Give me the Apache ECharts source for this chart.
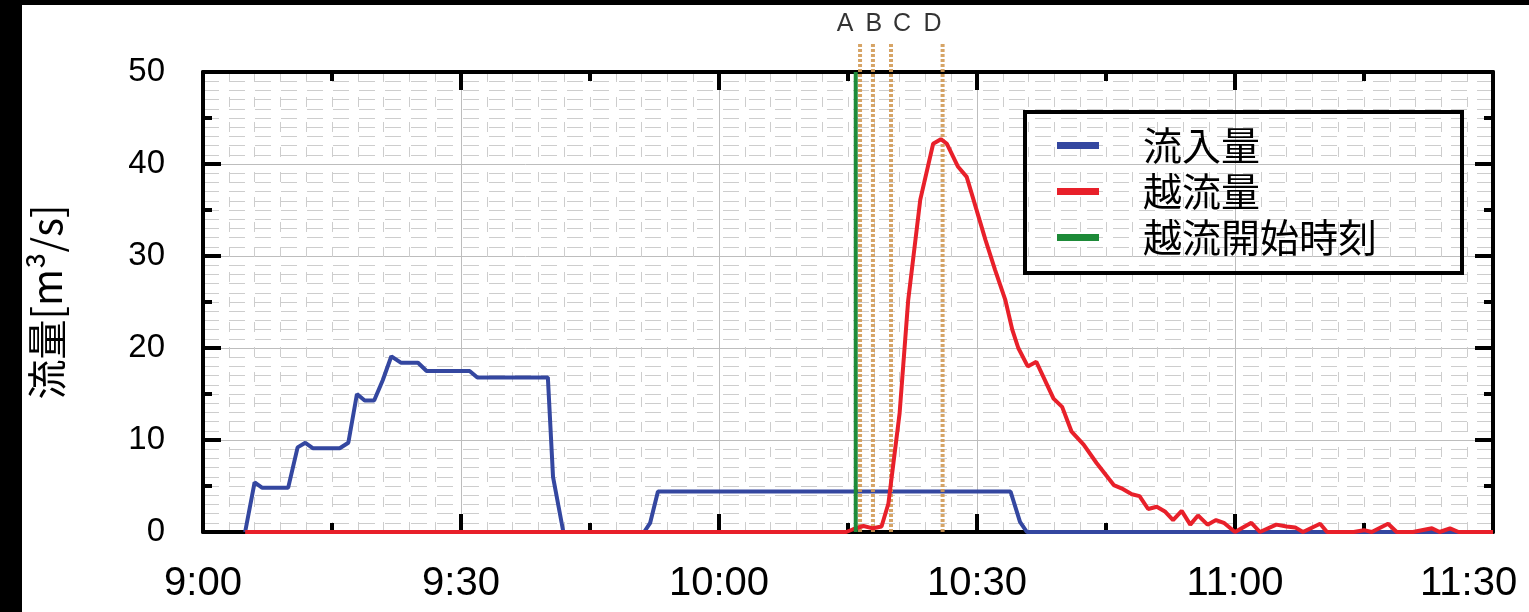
<!DOCTYPE html>
<html><head><meta charset="utf-8">
<script src="https://cdn.jsdelivr.net/npm/echarts@6/dist/echarts.min.js"></script>
<style>html,body{margin:0;padding:0;background:#fff}#c{width:1529px;height:612px}</style>
</head><body><div id="c"></div>
<script>
// ---- data ----
const seriesNames = ['流入量', '越流量', '越流開始時刻'];
const xTickLabels = ['9:00', '9:30', '10:00', '10:30', '11:00', '11:30']; // every 30 min from 9:00
const yAxisName = '流量[m³/s]';
// minutes after 9:00, flow [m3/s]
const inflow = [
  [4.9,0],[6.0,5.4],[6.9,4.8],[9.9,4.8],[11.0,9.2],[11.9,9.7],[12.8,9.1],[15.9,9.1],[16.9,9.7],
  [17.9,15.0],[18.8,14.3],[19.9,14.3],[20.9,16.5],[21.9,19.1],[23.0,18.4],[25.0,18.4],[26.0,17.5],
  [31.0,17.5],[31.9,16.8],[40.1,16.8],[40.7,6.0],[41.9,0],[51.3,0],[52.0,1.0],[52.9,4.4],
  [93.9,4.4],[95.0,1.1],[95.8,0],[150,0]
];
const overflow = [
  [4.9,0],[74.8,0],[75.6,0.3],[76.8,0.65],[77.9,0.4],[78.9,0.6],[79.7,3.1],[81.0,12.9],[82.0,25.2],
  [83.4,36.1],[84.9,42.2],[85.8,42.7],[86.5,42.2],[87.8,39.7],[88.8,38.6],[89.6,36.1],[91.0,31.7],
  [92.1,28.5],[93.3,25.2],[94.1,22.0],[94.8,20.0],[95.9,18.0],[96.9,18.5],[98.9,14.5],[99.9,13.6],
  [101.0,10.9],[102.4,9.5],[103.9,7.5],[105.9,5.1],[106.8,4.75],[108.0,4.1],[108.9,3.9],[109.9,2.5],
  [110.9,2.75],[111.9,2.2],[112.8,1.3],[113.8,2.3],[114.8,0.8],[115.7,1.8],[116.8,0.8],[117.8,1.3],
  [118.7,1.0],[120.0,0],[121.9,1.0],[122.9,0],[124.8,0.8],[126.0,0.6],[127.0,0.5],[127.9,0],
  [129.9,0.9],[130.7,0],[133.8,0],[135.0,0.2],[135.9,0],[137.8,0.9],[138.8,0],[140.7,0],[142.9,0.4],
  [143.8,0],[145.0,0.4],[146.0,0],[150,0]
];
const overflowStart = 75.9;            // minutes after 9:00
const eventNames = ['A', 'B', 'C', 'D'];
const eventTimes = [76.4, 77.9, 80.0, 86.0];

// ---- style / layout ----
const eventLabelDx = [-15, 1, 11, -10];
const LAT = 'Liberation Sans, Arial, sans-serif';
const CJK = 'Noto Sans CJK JP, sans-serif';
const BLUE = '#3447a0', RED = '#e8202a', GREEN = '#1d8a38', DOT = '#d19a55';
const G = {left: 203, right: 36, top: 72, bottom: 80};
const markTop = 42;
const YMAX = 50;
const hiddenYMax = YMAX * (612 - G.bottom - markTop) / (612 - G.bottom - G.top);

function xAx(o) {
  return Object.assign({
    type: 'value', gridIndex: 0, min: 0, max: 150, position: 'bottom',
    axisLine: {show: false, onZero: false},
    axisTick: {show: false}, axisLabel: {show: false},
    splitLine: {show: false}, minorTick: {show: false}, minorSplitLine: {show: false}
  }, o);
}
function yAx(o) {
  return Object.assign({
    type: 'value', gridIndex: 0, min: 0, max: YMAX, position: 'left',
    axisLine: {show: false, onZero: false},
    axisTick: {show: false}, axisLabel: {show: false},
    splitLine: {show: false}, minorTick: {show: false}, minorSplitLine: {show: false}
  }, o);
}
const frameLine = {show: true, onZero: false, lineStyle: {color: '#000', width: 4}};
const bigTick = {show: true, inside: true, length: 18, lineStyle: {color: '#000', width: 4}};
const smallTick = {show: true, inside: true, length: 9, lineStyle: {color: '#000', width: 4}};

const option = {
  backgroundColor: '#fff',
  animation: false,
  grid: [
    Object.assign({containLabel: false, outerBoundsMode: 'none'}, G),
    {left: G.left, right: G.right, top: markTop, bottom: G.bottom, containLabel: false, outerBoundsMode: 'none'}
  ],
  graphic: [
    {type: 'rect', shape: {x: 0, y: 0, width: 22, height: 612}, style: {fill: '#000'}, z: 100},
    {type: 'rect', shape: {x: 0, y: 0, width: 1529, height: 5}, style: {fill: '#000'}, z: 100}
  ],
  legend: {
    data: seriesNames, orient: 'vertical', left: 1025, top: 112,
    padding: [14, 85, 16, 32], itemGap: 7, itemWidth: 42, itemHeight: 7, icon: 'rect',
    borderColor: '#000', borderWidth: 4, backgroundColor: 'transparent',
    textStyle: {fontFamily: CJK, fontSize: 39, lineHeight: 39, color: '#000', padding: [0, 0, 0, 39]}
  },
  xAxis: [
    xAx({interval: 30, axisLine: frameLine, axisTick: bigTick,
      axisLabel: {show: true, margin: 32, fontFamily: LAT, fontSize: 40, color: '#000',
        showMinLabel: true, showMaxLabel: true,
        formatter: v => { const s = xTickLabels[Math.round(v / 30)]; return v === 150 ? '{r|' + s + '}' : s; },
        rich: {r: {width: 146, align: 'left', fontFamily: LAT, fontSize: 40, color: '#000'}}},
      splitLine: {show: true, lineStyle: {color: '#bdbdbd', width: 1}},
      minorTick: {show: false, splitNumber: 10},
      minorSplitLine: {show: true, lineStyle: {color: '#cdcdcd', width: 1, type: [10, 15]}}
    }),
    xAx({interval: 15, axisTick: smallTick}),
    xAx({position: 'top', interval: 30, axisLine: frameLine, axisTick: bigTick}),
    xAx({position: 'top', interval: 15, axisTick: smallTick}),
    xAx({gridIndex: 1, show: false})
  ],
  yAxis: [
    yAx({interval: 10, axisLine: frameLine, axisTick: bigTick,
      name: yAxisName, nameLocation: 'middle', nameGap: 136, nameRotate: 90,
      nameTextStyle: {fontFamily: CJK, fontSize: 40, color: '#000'},
      axisLabel: {show: true, margin: 38, fontFamily: LAT, fontSize: 33, color: '#000'},
      splitLine: {show: true, lineStyle: {color: '#bdbdbd', width: 1}},
      minorTick: {show: false, splitNumber: 10},
      minorSplitLine: {show: true, lineStyle: {color: '#cdcdcd', width: 1, type: [16, 10]}}
    }),
    yAx({interval: 5, axisTick: smallTick}),
    yAx({position: 'right', interval: 10, axisLine: frameLine, axisTick: bigTick}),
    yAx({position: 'right', interval: 5, axisTick: smallTick}),
    yAx({gridIndex: 1, show: false, max: hiddenYMax})
  ],
  series: [
    {name: seriesNames[0], type: 'line', xAxisIndex: 0, yAxisIndex: 0, data: inflow,
      symbol: 'none', lineStyle: {color: BLUE, width: 4}, itemStyle: {color: BLUE}, z: 3},
    ...eventTimes.map((t, i) => ({
      name: 'event' + eventNames[i], type: 'line', xAxisIndex: 4, yAxisIndex: 4,
      data: [[t, 0], [t, hiddenYMax]], symbol: 'none', silent: true,
      lineStyle: {color: DOT, width: 4, type: [3, 2], opacity: 0.9}, z: 4
    })),
    {name: seriesNames[1], type: 'line', xAxisIndex: 0, yAxisIndex: 0, data: overflow,
      symbol: 'none', lineStyle: {color: RED, width: 4}, itemStyle: {color: RED}, z: 5},
    {name: seriesNames[2], type: 'line', xAxisIndex: 0, yAxisIndex: 0,
      data: [[overflowStart, 0], [overflowStart, YMAX]],
      symbol: 'none', lineStyle: {color: GREEN, width: 4}, itemStyle: {color: GREEN}, z: 6},
    {name: 'eventLabels', type: 'scatter', xAxisIndex: 4, yAxisIndex: 4, symbolSize: 0, silent: true,
      data: eventTimes.map((t, i) => ({value: [t, hiddenYMax], label: {offset: [eventLabelDx[i], 0]}})),
      label: {show: true, position: 'top', distance: 5, fontFamily: LAT, fontSize: 25, color: '#000',
        formatter: p => eventNames[p.dataIndex]}}
  ]
};
const chart = echarts.init(document.getElementById('c'), null, {renderer: 'canvas'});
chart.setOption(option);
</script>
</body></html>
